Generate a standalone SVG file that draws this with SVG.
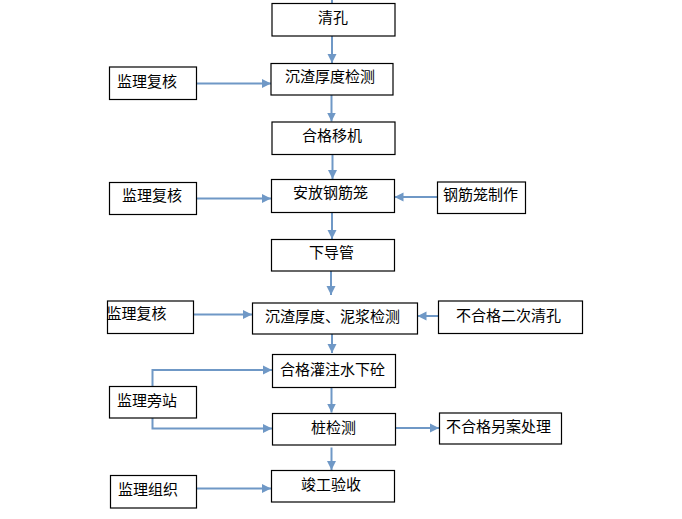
<svg xmlns="http://www.w3.org/2000/svg" width="682" height="519" viewBox="0 0 682 519">
<style>
.box{fill:#fff;stroke:#000;stroke-width:1.2}
.t{font-family:"Noto Sans CJK SC","Liberation Sans",sans-serif;font-size:15px;fill:#000}
.c{fill:none;stroke:#6f98c6;stroke-width:2}
</style>
<defs>
<marker id="ah" markerUnits="userSpaceOnUse" markerWidth="10" markerHeight="10" refX="9" refY="4.5" orient="auto" viewBox="0 0 10 9">
<path d="M0,0 L9,4.5 L0,9 z" fill="#6f98c6"/>
</marker>
</defs>
<rect width="682" height="519" fill="#fff"/>
<g id="connectors">
<path class="c" d="M332,0 V3"/>
<path class="c" d="M332,36 V63" marker-end="url(#ah)"/>
<path class="c" d="M196,83.5 H271" marker-end="url(#ah)"/>
<path class="c" d="M331.5,95 V121.5" marker-end="url(#ah)"/>
<path class="c" d="M332.5,154 V179" marker-end="url(#ah)"/>
<path class="c" d="M197,198.5 H271" marker-end="url(#ah)"/>
<path class="c" d="M437,197 H394.5" marker-end="url(#ah)"/>
<path class="c" d="M332,212 V239" marker-end="url(#ah)"/>
<path class="c" d="M331,271 V295" marker-end="url(#ah)"/>
<path class="c" d="M193,314.5 H252" marker-end="url(#ah)"/>
<path class="c" d="M438,316 H417.5" marker-end="url(#ah)"/>
<path class="c" d="M332,330 V353" marker-end="url(#ah)"/>
<path class="c" d="M152.5,386 V370 H272" marker-end="url(#ah)"/>
<path class="c" d="M331.5,387 V412.5" marker-end="url(#ah)"/>
<path class="c" d="M152.5,418 V428.5 H272" marker-end="url(#ah)"/>
<path class="c" d="M395,428 H439" marker-end="url(#ah)"/>
<path class="c" d="M331.5,447.5 V470" marker-end="url(#ah)"/>
<path class="c" d="M197,488.5 H271" marker-end="url(#ah)"/>
</g>
<g id="n1"><rect class="box" x="272" y="3.5" width="123" height="32.5"/><text class="t" x="318" y="23">清孔</text></g>
<g id="n2"><rect class="box" x="271" y="63.5" width="122" height="31.5"/><text class="t" x="285" y="82">沉渣厚度检测</text></g>
<g id="n3"><rect class="box" x="109.5" y="67" width="87" height="32.5"/><text class="t" x="117" y="87">监理复核</text></g>
<g id="n4"><rect class="box" x="272" y="122" width="123" height="32.5"/><text class="t" x="302" y="141">合格移机</text></g>
<g id="n5"><rect class="box" x="271.5" y="179.5" width="123" height="33"/><text class="t" x="293" y="198">安放钢筋笼</text></g>
<g id="n6"><rect class="box" x="109.5" y="182.5" width="87" height="32"/><text class="t" x="122" y="201">监理复核</text></g>
<g id="n7"><rect class="box" x="437.5" y="182" width="88" height="31.5"/><text class="t" x="443" y="200">钢筋笼制作</text></g>
<g id="n8"><rect class="box" x="271.5" y="239.5" width="123" height="31.5"/><text class="t" x="309" y="258">下导管</text></g>
<g id="n9"><rect class="box" x="107.5" y="301" width="86" height="32.5"/><text class="t" x="106.5" y="319">监理复核</text></g>
<g id="n10"><rect class="box" x="252.5" y="303" width="165" height="31"/><text class="t" x="265" y="322">沉渣厚度、泥浆检测</text></g>
<g id="n11"><rect class="box" x="438.5" y="301" width="144" height="32.5"/><text class="t" x="456" y="321">不合格二次清孔</text></g>
<g id="n12"><rect class="box" x="272.5" y="354.5" width="123" height="33"/><text class="t" x="280" y="375">合格灌注水下砼</text></g>
<g id="n13"><rect class="box" x="109.5" y="386.5" width="87" height="31.5"/><text class="t" x="117" y="406">监理旁站</text></g>
<g id="n14"><rect class="box" x="272.5" y="413.5" width="123" height="31.5"/><text class="t" x="311" y="433">桩检测</text></g>
<g id="n15"><rect class="box" x="439.5" y="413" width="122" height="31"/><text class="t" x="446" y="432">不合格另案处理</text></g>
<g id="n16"><rect class="box" x="271.5" y="470.5" width="123" height="31.5"/><text class="t" x="301" y="490">竣工验收</text></g>
<g id="n17"><rect class="box" x="110.5" y="475.5" width="86" height="32.5"/><text class="t" x="118" y="495">监理组织</text></g>
</svg>
